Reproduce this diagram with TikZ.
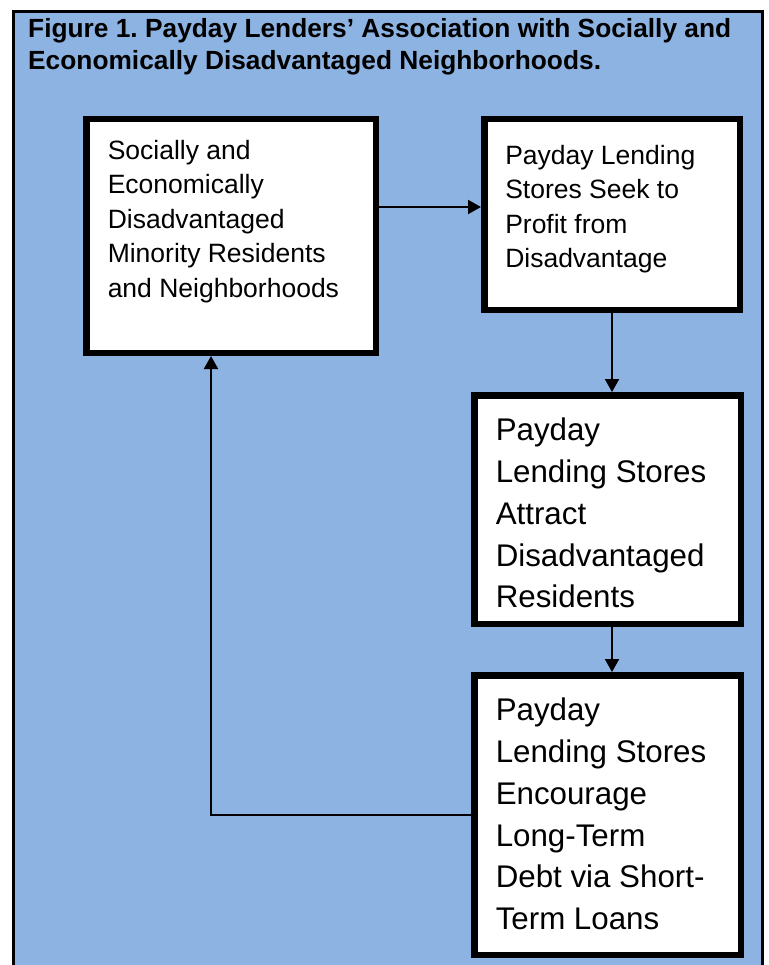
\documentclass[tikz,border=0pt]{standalone}
\usepackage{fontspec}
\setmainfont{Liberation Sans}
\usetikzlibrary{arrows.meta,positioning}
\definecolor{panelblue}{RGB}{141,179,226}
\frenchspacing
\tikzset{
    stage/.style={draw,line width=6.5pt,fill=white,anchor=north west},
    small stage/.style={stage,font=\fontsize{26.5}{34.5}\selectfont},
    big stage/.style={stage,font=\fontsize{31.3}{41.7}\selectfont},
    flow/.style={line width=2pt,-{Triangle[length=13pt,width=14pt]}}
}

\begin{document}
\begin{tikzpicture}[x=1pt,y=-1pt]
    \useasboundingbox (0,0) rectangle (768,965);
    \clip (0,0) rectangle (768,965);
    % panel
    \fill[panelblue] (13.5,11.5) rectangle (762,980);
    \draw[line width=3pt] (13.5,980) |- (762,11.5) -- (762,980);
    \node[font=\bfseries\fontsize{26.3}{32}\selectfont,align=left,anchor=north west,inner sep=0pt]
        (title) at (28,18.2) {Figure 1. Payday Lenders’ Association with Socially and\\Economically Disadvantaged Neighborhoods.};
    % stages
    \node[small stage,inner xsep=21.5pt,inner ysep=21pt] (resid) at (83,116)
        {\parbox[c][191.5pt][t]{246.5pt}{Socially and\\Economically\\Disadvantaged\\Minority Residents\\and Neighborhoods}};
    \node[small stage,inner xsep=21pt,inner ysep=26pt] (seek) [right=102pt of resid.north east,anchor=north west]
        {\parbox[c][138.5pt][t]{213.5pt}{Payday Lending\\Stores Seek to\\Profit from\\Disadvantage}};
    \node[big stage,inner xsep=21.5pt,inner ysep=23pt] (attract) [below=79pt of seek.south west,anchor=north west,xshift=-10pt]
        {\parbox[c][182.5pt][t]{223.5pt}{Payday\\Lending Stores\\Attract\\Disadvantaged\\Residents}};
    \node[big stage,inner xsep=21.5pt,inner ysep=23pt] (debt) [below=45pt of attract.south west,anchor=north west]
        {\parbox[c][233.5pt][t]{223.5pt}{Payday\\Lending Stores\\Encourage\\Long-Term\\Debt via Short-\\Term Loans}};
    % connectors
    \coordinate (in1) at ([yshift=7.5pt]seek.west);
    \draw[flow] (resid.east |- in1) -- (in1);
    \draw[flow] (seek.south) -- (seek.south |- attract.north);
    \draw[flow] (seek.south |- attract.south) -- (seek.south |- debt.north);
    \draw[flow] (debt.west) -| ([xshift=-20pt]resid.south);
\end{tikzpicture}
\end{document}
